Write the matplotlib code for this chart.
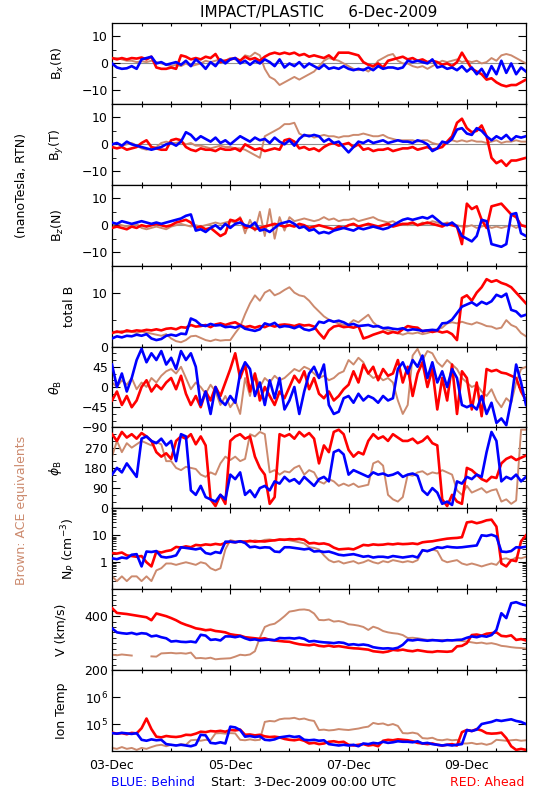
import numpy as np
import matplotlib
matplotlib.use('Agg')
import matplotlib.pyplot as plt
import matplotlib.dates as mdates
from matplotlib.ticker import MultipleLocator, FixedLocator, LogLocator, NullFormatter

#%% data, 2-hourly readings from 3-Dec-2009 00:00 UT
HOURS = np.arange(0, 169, 2)
t = np.datetime64('2009-12-03T00:00') + HOURS.astype('timedelta64[h]')

BX_RED = [2, 1.5, 2, 1.5, 2, 1.8, 2.2, 1.5, 2.5, -1.5, -2, -2,
          -1.5, -2, 3, 2.5, 1.5, 2, 1.5, 2.5, 2, 3.5, 0.5, 1,
          1.5, 2, 1, 2.5, 1.5, 2, 1, 2.5, 3.5, 4, 3.5, 4,
          3.5, 4, 3, 3.5, 2.5, 3, 2.5, 2, 3, 1.5, 4, 4,
          4, 3.5, 3, 0.5, -0.5, -1, 0, -1.5, 1, 1.5, 2, 2.5,
          1.5, 2, 1, 1.5, 0.5, 1, 0.5, -0.5, 0, -1, 0.5, 4,
          1, -2, -3, -4, -6, -5.5, -7, -8, -8.5, -8, -8, -7, -6]
BX_BLUE = [0, -1.5, -2, -1.8, -1, -2, 1.5, 2, 2.5, 0, 0.5, -0.5,
           0, 0.5, -0.5, 1, -1, 1.5, 0, -2, 0.5, -1, 1.5, 0,
           1.5, 2, 0, 1, -0.5, 1, 0, 1.5, 0.5, -1, 1.5, -1.5,
           0, -1, 0.5, -1.5, 0, -1, -2, -0.5, -2, -1.5, -2, -1,
           -2, -2.5, -2, -2.5, -1.5, -2.5, -1, -2, -1.5, -1.5, -2, -1.5,
           1, 0.5, 1, 0.5, 0, 1.5, -1.5, -1, -2, -1.5, -2.5, -1,
           -3, -1.5, -4, -2, -5, -1, -4, 1, -3.5, 0, -4, -1.5, -3]
BX_ACE = [2, 2, 1.5, 1, 1, 0.5, 0.8, 0.5, 1, 0.5, 0, -0.5,
          -1, -0.5, -1, 0, -1, -0.5, 0, 1, 0.5, 1, 1.5, 1,
          2, 1.5, 1, 3, 2.5, 4, 3, -2, -5, -6, -8, -7,
          -6, -5, -6, -5, -4, -3, -1, 1, 2, 1.5, 1, 0,
          -1, -2, -2.5, -2, -3, -1.5, 1, 2, 3, 3.5, 1, 0,
          0, -1, -1.5, -1, -2, -1, 0, 1, 0.5, 1, 1.5, 0.5,
          1, 0.5, 1, 0, 0.5, 2, 1, 3, 3.5, 3, 2, 1, 0]

BY_RED = [-1, -1.5, -1, -2, -1.5, -1, 0.5, 1.5, -1, -1.5, -2, -2,
          1.5, 2, 1.5, -1, -2, -2.5, -1.5, -2, -2, -2.5, -1.5, -2,
          -2, -1.5, -2.5, 0, -1, -2, -1.5, -2.5, -2, -1.5, -2, 1.5,
          2, 1, -1.5, -1, -2, -1.5, -2.5, -1, 0, 0.5, -0.5, 0,
          0.5, -1, 0, -2, -1.5, -2.5, -2, -2, -1.5, -2.5, -2, -1.5,
          -1.5, -1, -2, -1.5, -1, -2, -1.5, -1, 1, 3, 8, 9.5,
          6, 4.5, 5, 7, 3, -5, -7, -6, -8, -6, -6, -5.5, -5]
BY_BLUE = [0, 0.5, -0.5, 1, 0, -0.5, -1, -1.5, -2, -1.5, -1, 0,
           0.5, -0.5, 1, 4.5, 3.5, 1.5, 3, 2, 1, 2.5, 0.5, 1.5,
           0, 1.5, 3, 2, 1, 2.5, 1.5, 2, 0.5, 2.5, 1, 0,
           1.5, -0.5, 2, 3.5, 3, 3.5, 3, 1, 2, 0.5, 1, -1,
           -3, -1, 1, 0.5, 1.5, 0.5, 1, 1.5, 0.5, 1, 1.5, 1,
           1, 0.5, 1.5, 1, 0, -2.5, -1.5, 1, 0.5, 2, 5.5, 6,
           4, 3.5, 6, 5, 3, 1.5, 3, 2, 3.5, 1.5, 3, 2.5, 3]
BY_ACE = [0, 0.5, -0.5, 0, 0.5, -0.5, -1.5, -2, -1.5, -1, 0.5, 1,
          0.5, 0.5, 1, 0, 0.5, -0.5, -0.5, -1, -1.5, -1, -0.5, -1,
          -1, -1.5, -1.5, -2, -3, -4, -5, 3, 4, 5, 6, 7.5,
          7.5, 8, 4, 3, 3.5, 2.5, 3, 3.5, 3, 3, 2.5, 3,
          3, 3.5, 3.5, 4, 3.5, 3, 3, 3.5, 2.5, 2, 1.5, 1.5,
          1.5, 1.5, 1, 1.5, 1.5, 0.5, 0, 0, 1, 1.5, 1, 1.5,
          1, 1.5, 1, 1, 0.5, 1, 1.5, 0.5, 1, 1, 1.5, 1, 1]

BZ_RED = [-1, -0.5, -1, -1.5, -0.5, -1, 0, -0.5, 0, 0.5, 0, -0.5,
          0, 1, 1.5, 2, 1, -1, -0.5, -1.5, -1, -2.5, -4, -3,
          2, 1.5, 2.5, -1, -0.5, -1.5, -1, -0.5, 0, 0.5, 0, -0.5,
          0, -0.5, 0.5, 0, -1, -0.5, 0, -0.5, -1, -1.5, -0.5, -1,
          0, 0.5, -0.5, 0, 0.5, 0, -0.5, 0, 0.5, -0.5, 0, 0.5,
          0.5, 1, 0, 0.5, 1, 0.5, 0, -0.5, 0.5, 0, -0.5, -7,
          8, 6, 7, 2, -1, 7, 7.5, 8, 6, 4, 3, 0, -0.5]
BZ_BLUE = [1, 0.5, 1.5, 1, 0.5, 1, 1.5, 1, 0.5, 1, 0.5, 1,
           1.5, 2, 2.5, 3.5, 4, -2, -1.5, -2.5, -1, 0, -1.5, 0.5,
           -1, 0.5, 1, 0, -0.5, 1, -2, -1.5, -2.5, -1, 0.5, 1,
           1.5, 0.5, -1, -0.5, -2, -1.5, -3, -2.5, -3, -2, -1.5, -1,
           -1.5, -2, -1, -1.5, -1, -0.5, -1, -1.5, -1, 0, 1, 2,
           2.5, 2, 2.5, 3, 2.5, 3.5, 2, 0.5, 0, 1, -0.5, -4,
           -5, -6, -4, 2, 1.5, -7, -7.5, -8, -7, 4, 4.5, -3, -4]
BZ_ACE = [0, 0.5, 0, -0.5, 0, 0.5, -1, -1.5, -1, -0.5, -1, -1.5,
          -0.5, 0, 0.5, 0, -0.5, 0, -0.5, 0, 0.5, 1, 0.5, 1,
          1.5, 1, 3, -3, 2, -2, 5, -4, 6, -5, 3, -2,
          3, 1.5, 2, 2.5, 2, 1.5, 2, 3, 2, 2.5, 1.5, 2,
          2, 2.5, 1.5, 2, 2.5, 3, 2, 1.5, 1, 1.5, 0.5, 0.5,
          0, 0.5, 0, 1, 0.5, 1.5, 1, 0.5, 1, 0.5, 0, -0.5,
          -0.5, 0, -1, -0.5, 0, -1, -0.5, -1, -0.5, 0, -1, 0, -0.5]

BT_RED = [2.5, 2.8, 2.6, 3, 2.8, 3, 2.9, 3.1, 3, 3.2, 3, 3.3,
          3.4, 3.2, 3.6, 3.5, 4, 3.7, 3.8, 4, 3.6, 4.1, 4.3, 4,
          4.3, 4.5, 4, 3.6, 3.8, 3.5, 3.8, 3.6, 4, 3.7, 4, 4.1,
          4, 3.8, 4.1, 3.9, 4, 3.7, 2.5, 1.5, 3, 3.7, 3.9, 3.6,
          3.7, 3.5, 3.8, 1.5, 1.8, 2.2, 2.5, 2.8, 2.4, 2.7, 2.5, 3.2,
          3.8, 3.6, 3.5, 2.8, 3, 2.7, 2.9, 2.6, 2.8, 2.3, 1.2, 9,
          9.5, 8.5, 10, 11, 12.5, 12, 12.3, 11.8, 11.5, 11, 10, 9, 8]
BT_BLUE = [1.5, 1.9, 1.7, 2, 1.9, 2.2, 2, 2.3, 1.5, 1.2, 1.4, 2,
           2.2, 2, 2.4, 2.3, 5.2, 4.8, 4, 3.8, 4.2, 3.9, 4, 3.6,
           3.7, 3.5, 3.9, 3.3, 3.1, 2.9, 3.2, 4.3, 4, 4.4, 3.6, 3.8,
           3.7, 3.4, 3.8, 3.2, 3, 3.3, 4.6, 4.4, 4.9, 4.6, 4.8, 4.5,
           4, 4.2, 3.8, 3.9, 4, 3.7, 3.8, 3.4, 3.5, 3.3, 3.2, 3.4,
           3, 3.2, 3.1, 2.9, 3, 3.1, 3, 4.3, 4.4, 5, 6.2, 7.4,
           7.8, 8.2, 7.6, 8.3, 7.9, 8.4, 9.6, 9.2, 9.8, 6.8, 6.5, 5.6, 5.9]
BT_ACE = [2.8, 2.6, 2.9, 2.7, 2.8, 2.5, 2.8, 2.6, 2.4, 2.2, 2, 2.3,
          1.5, 1, 0.8, 1.2, 1.9, 2, 1.6, 1.2, 1, 1.3, 1.1, 1.2,
          1.2, 2.5, 3.7, 6, 8, 9.5, 8.5, 10, 10.5, 9.5, 9.9, 10.5,
          11, 10, 9.5, 9.3, 8.5, 7.4, 6.5, 5.6, 5, 4.6, 4.3, 4,
          4.1, 4.9, 4.5, 5.2, 5.9, 4.5, 3.7, 3.4, 3, 2.8, 2.5, 2.2,
          2.5, 2.4, 2.6, 2.3, 2.5, 2.8, 3.2, 3.5, 4.3, 4.5, 4.3, 4.6,
          4.3, 4.1, 4.5, 4.2, 3.8, 3.7, 3.3, 3.5, 4.9, 4, 3.6, 2.5, 1.9]

TH_RED = [-30, -10, -40, -20, -45, -30, 0, 15, -10, 5, -5, 10,
          20, -5, 25, -15, -40, -20, -45, -10, -30, 0, -20, 10,
          40, 75, 20, 50, -10, 30, -30, 0, -20, -40, -10, -25,
          0, 25, 10, 35, -5, 20, -15, -25, -10, -30, -20, -5,
          5, 35, 10, 50, 30, 45, 15, 40, 25, 30, 60, 10,
          45, -20, 30, 55, 0, 40, -50, 20, -30, 50, -60, 35,
          20, -50, 10, -65, 40, 35, 38, 32, 30, 25, 20, -10, -30]
TH_BLUE = [50, 0, 30, -10, 20, 60, 85, 55, 75, 60, 80, 50,
           65, 40, 80, 60, 75, 45, -40, -10, -60, 0, -30, -40,
           -20, -35, 30, 55, 40, -20, 10, -40, 15, -25, 20, -50,
           -30, 0, -60, -10, 30, 45, 20, 50, -40, -60, -55, -25,
           -20, -35, -15, -30, -20, -25, -35, -20, -30, -25, 40, 55,
           30, 60, 45, 70, 20, 55, 10, 35, 0, 40, 20, -40,
           -45, -40, -50, -20, -60, -35, -80, -70, -85, -30, 50, 10, -40]
TH_ACE = [10, 0, 15, 5, 20, -5, 10, 0, 20, 10, 25, 35,
          40, 30, 45, 20, -5, 10, 0, -15, 5, -10, -40, -20,
          -45, -30, -60, 20, -20, 30, 0, 20, 10, 25, 15, 20,
          30, 40, 35, 45, 40, 30, 20, 25, 15, 20, 30, 35,
          60, 50, 65, 55, 30, 20, 25, 15, 20, 10, -30, -60,
          -40, 70, 85, 60, 80, 75, 55, 45, 60, 50, 40, 20,
          10, 0, 5, -10, -20, -5, -30, -45, -25, -35, 10, 40, 45]

PH_RED = [330, 300, 340, 315, 330, 310, 335, 320, 300, 250, 230, 245,
          220, 300, 320, 310, 330, 285, 320, 280, 40, 10, 60, 20,
          300, 320, 330, 310, 320, 230, 180, 150, 20, 50, 330, 320,
          330, 310, 340, 320, 335, 310, 200, 280, 250, 340, 350, 330,
          260, 230, 250, 240, 300, 330, 310, 320, 300, 330, 315, 300,
          300, 310, 290, 300, 320, 290, 280, 40, 10, 60, 30, 20,
          180, 170, 150, 130, 120, 140, 135, 200, 220, 230, 215, 225, 235]
PH_BLUE = [150, 180, 160, 200, 170, 140, 310, 320, 300, 290, 310, 280,
           300, 210, 330, 320, 80, 60, 100, 50, 40, 30, 60, 40,
           150, 130, 160, 60, 80, 50, 90, 100, 80, 120, 110, 140,
           120, 130, 110, 140, 120, 100, 130, 140, 120, 250, 260, 240,
           150, 170, 160, 150, 140, 160, 150, 155, 145, 150, 160, 140,
           150, 155, 145, 80, 60, 90, 70, 20, 30, 15, 120, 110,
           140, 130, 150, 140, 250, 340, 300, 120, 140, 130, 150, 120, 140]
PH_ACE = [230, 300, 250, 290, 270, 285, 300, 290, 280, 295, 285, 210,
          210, 180, 170, 185, 180, 175, 150, 140, 160, 150, 200, 230,
          215, 230, 210, 220, 330, 320, 340, 330, 160, 170, 150, 165,
          160, 180, 190, 150, 170, 160, 120, 110, 130, 120, 100, 110,
          100, 110, 95, 100, 105, 200, 210, 190, 60, 40, 30, 50,
          150, 145, 160, 165, 150, 160, 155, 170, 160, 150, 80, 60,
          100, 70, 80, 90, 70, 80, 85, 30, 40, 20, 35, 350, 350]

NP_RED = [2.2, 2.1, 2.3, 1.8, 1.7, 1.6, 1.7, 1.0, 0.7, 2.5, 2.3, 2.6,
          2.8, 3.7, 3.5, 3.9, 3.6, 4.4, 4.2, 4.6, 4.4, 4.8, 4.5, 5.2,
          5.8, 5.5, 6.0, 5.7, 6.2, 5.8, 6.0, 5.9, 6.3, 6.5, 7.0, 6.8,
          7.2, 7.0, 7.3, 6.8, 5.0, 5.2, 4.8, 5.0, 4.5, 3.5, 3.0, 3.1,
          3.2, 3.0, 3.6, 4.4, 4.2, 4.6, 4.4, 4.5, 4.8, 4.6, 4.9, 4.7,
          4.8, 5.0, 4.7, 5.5, 5.8, 6.0, 6.5, 7.0, 7.5, 7.8, 8.0, 8.5,
          30, 32, 28, 31, 36, 38, 21, 0.9, 0.7, 1.2, 1.1, 6, 10]
NP_BLUE = [1.4, 1.3, 1.5, 1.4, 1.9, 2.0, 0.7, 2.5, 2.4, 2.6, 1.6, 1.5,
           1.6, 1.8, 3.6, 3.4, 3.2, 3.0, 3.3, 2.2, 2.0, 2.4, 2.2, 5.8,
           5.8, 5.5, 6.0, 5.2, 3.6, 3.8, 3.4, 3.6, 3.5, 2.5, 2.4, 3.6,
           3.6, 3.4, 3.2, 3.0, 3.2, 2.5, 2.6, 2.4, 2.5, 2.2, 1.9, 1.8,
           1.9, 2.0, 1.8, 1.6, 1.7, 1.5, 1.6, 1.6, 1.5, 1.7, 1.6, 1.5,
           1.6, 1.7, 1.5, 2.8, 2.6, 3.0, 3.6, 3.4, 3.8, 3.6, 3.5, 3.6,
           3.8, 4.0, 4.2, 10, 9.5, 10.5, 9, 2.5, 2.4, 2.6, 3.6, 3.5, 3.8]
NP_ACE = [0.3, 0.2, 0.3, 0.2, 0.3, 0.3, 0.2, 0.3, 0.2, 0.5, 0.6, 0.9,
          0.9, 0.8, 0.9, 1.0, 0.9, 0.8, 1.0, 0.9, 0.6, 0.5, 0.6, 3.0,
          6.6, 6.0, 5.5, 6.2, 5.8, 6.5, 6.0, 6.8, 7.0, 6.5, 6.8, 7.0,
          6.5, 6.0, 5.5, 5.0, 3.6, 3.4, 3.0, 1.8, 1.2, 1.0, 1.1, 0.9,
          1.0, 1.1, 0.9, 1.0, 1.2, 1.0, 0.9, 1.1, 1.0, 1.2, 1.1, 1.0,
          1.1, 1.0, 1.2, 2.8, 2.5, 3.0, 2.6, 1.2, 1.0, 1.1, 1.2, 0.9,
          0.8, 0.9, 0.8, 0.7, 0.8, 0.9, 0.8, 1.3, 1.4, 1.2, 1.5, 1.4, 1.6]

V_RED = [430, 412, 410, 408, 405, 402, 399, 396, 385, 410, 405, 400,
         393, 385, 375, 368, 362, 355, 352, 348, 350, 345, 343, 340,
         333, 330, 328, 322, 320, 318, 316, 318, 312, 310, 308, 306,
         305, 300, 296, 294, 292, 295, 290, 288, 291, 287, 289, 286,
         283, 281, 280, 278, 276, 270, 268, 266, 269, 275, 273, 276,
         272, 270, 274, 271, 268, 267, 270, 269, 268, 270, 288, 290,
         300, 330, 332, 328, 335, 337, 340, 327, 325, 329, 312, 315, 310]
V_BLUE = [355, 340, 337, 335, 338, 333, 337, 335, 325, 328, 322, 318,
          306, 308, 305, 304, 306, 303, 331, 328, 312, 314, 310, 325,
          325, 322, 326, 318, 312, 314, 310, 312, 313, 311, 319, 318,
          319, 317, 320, 316, 306, 308, 305, 303, 302, 300, 303, 301,
          294, 296, 293, 295, 292, 285, 282, 280, 281, 279, 283, 294,
          312, 310, 313, 311, 309, 311, 310, 308, 311, 310, 312, 313,
          320, 325, 322, 327, 324, 330, 349, 411, 393, 448, 452, 445, 440]
V_ACE = [257, 255, 258, 256, 254, np.nan, np.nan, np.nan, 251, 250, 262, 263,
         264, 262, 263, 261, 265, 244, 245, 243, 246, 240, 242, 243,
         244, 250, 257, 255, 258, 270, 320, 360, 368, 372, 385, 400,
         417, 420, 424, 425, 422, 410, 386, 385, 388, 380, 382, 378,
         370, 368, 365, 360, 349, 361, 355, 345, 340, 337, 335, 330,
         319, 320, 318, 315, 312, 313, 311, 312, 310, 312, 310, 308,
         306, 303, 300, 302, 298, 300, 296, 290, 288, 285, 283, 282, 280]

T_RED = [4.8e4, 4.4e4, 4.6e4, 4.2e4, 4.7e4, 4.5e4, 7e4, 1.6e5, 6.5e4, 3.4e4, 3.2e4, 3.6e4,
         3.4e4, 3.3e4, 3.5e4, 4e4, 3.9e4, 4.4e4, 5.2e4, 5e4, 5.5e4, 5.3e4, 5.6e4, 5.2e4,
         6e4, 5.8e4, 6.2e4, 4e4, 4.1e4, 3.8e4, 4e4, 3.5e4, 3.3e4, 3.4e4, 3.2e4, 2.8e4,
         2.6e4, 2.5e4, 2.7e4, 2.4e4, 1.9e4, 2e4, 1.8e4, 1.9e4, 2.2e4, 2.3e4, 2.1e4, 2.2e4,
         1.7e4, 1.6e4, 1.7e4, 1.8e4, 1.6e4, 1.7e4, 1.5e4, 2.4e4, 2.6e4, 2.5e4, 2.7e4, 2.6e4,
         2.5e4, 2.3e4, 2e4, 1.9e4, 1.8e4, 1.9e4, 1.7e4, 1.6e4, 1.7e4, 1.8e4, 1.6e4, 5e4,
         6e4, 5.5e4, 6.5e4, 5.8e4, 4.6e4, 4.4e4, 4.5e4, 4.8e4, 3e4, 1.5e4, 1.1e4, 1.2e4, 1.1e4]
T_BLUE = [4.6e4, 4.4e4, 4.7e4, 4.5e4, 4.3e4, 4.6e4, 2.6e4, 2.4e4, 2.7e4, 2.5e4, 2.6e4, 1.8e4,
          1.7e4, 1.6e4, 1.7e4, 1.6e4, 1.5e4, 1.7e4, 4e4, 3.8e4, 2e4, 1.9e4, 2.1e4, 1.9e4,
          8e4, 7.5e4, 6e4, 3.4e4, 3.6e4, 3.3e4, 3.5e4, 2.6e4, 2.5e4, 2.7e4, 3.2e4, 3.4e4,
          3.6e4, 3.3e4, 3.5e4, 2.6e4, 2.5e4, 2.6e4, 2.4e4, 2.5e4, 1.8e4, 1.7e4, 1.6e4, 1.7e4,
          1.6e4, 1.7e4, 1.5e4, 1.9e4, 1.8e4, 2e4, 1.9e4, 2.2e4, 2e4, 2.1e4, 2.3e4, 2.2e4,
          2.2e4, 2.1e4, 2.3e4, 1.9e4, 2e4, 1.8e4, 1.7e4, 1.6e4, 1.7e4, 1.6e4, 1.7e4, 1.8e4,
          6e4, 5.5e4, 6.2e4, 1e5, 1.1e5, 1.2e5, 1.4e5, 1.3e5, 1.4e5, 1.5e5, 1.3e5, 1.2e5, 1.0e5]
T_ACE = [1.3e4, 1.2e4, 1.4e4, 1.2e4, 1.3e4, 1.1e4, 1.3e4, 1.2e4, 1.4e4, 1.6e4, 1.7e4, 1.5e4,
         1.7e4, 1.6e4, 1.8e4, 1.7e4, 2.5e4, 2.6e4, 2.4e4, 2.6e4, 2.5e4, 4.5e4, 4.6e4, 4.4e4,
         4.6e4, 4.5e4, 2.6e4, 2.5e4, 2.7e4, 2.5e4, 2.6e4, 1.2e5, 1.3e5, 1.25e5, 1.5e5, 1.6e5,
         1.6e5, 1.7e5, 1.5e5, 1.6e5, 1.4e5, 1.3e5, 6e4, 6.2e4, 5.8e4, 6e4, 6.5e4, 6.2e4,
         6e4, 6.4e4, 6.8e4, 7.5e4, 8e4, 1.1e5, 1.0e5, 1.05e5, 9e4, 1.0e5, 8.5e4, 4.6e4,
         4.5e4, 4.8e4, 4.4e4, 3e4, 2.9e4, 3.1e4, 2.6e4, 2.5e4, 2.7e4, 2.5e4, 2.6e4, 1.9e4,
         1.9e4, 2e4, 1.8e4, 1.9e4, 1.7e4, 1.9e4, 2.6e4, 2.5e4, 2.4e4, 2.5e4, 2.6e4, 2.4e4, 2.5e4]

DATE_START = np.datetime64('2009-12-03T00:00')
DATE_END = np.datetime64('2009-12-10T00:00')
LABEL_DAYS = [3, 5, 7, 9]

RED = '#ff0000'
BLUE = '#0000ff'
BROWN = '#cc8a6e'

# (ylabel, ace, red, blue, ylim, yticks, ticklabels, minor step, log, label x px)
panels = [
    (r'B$_x$(R)', BX_ACE, BX_RED, BX_BLUE, (-15, 15), [-10, 0, 10], None, 5, False, 66),
    (r'B$_y$(T)', BY_ACE, BY_RED, BY_BLUE, (-15, 15), [-10, 0, 10], None, 5, False, 66),
    (r'B$_z$(N)', BZ_ACE, BZ_RED, BZ_BLUE, (-15, 15), [-10, 0, 10], None, 5, False, 66),
    ('total B', BT_ACE, BT_RED, BT_BLUE, (0, 15), [0, 10], None, 5, False, 76),
    (r'$\theta_{\rm B}$', TH_ACE, TH_RED, TH_BLUE, (-90, 90), [-90, -45, 0, 45], None, 15, False, 64),
    (r'$\phi_{\rm B}$', PH_ACE, PH_RED, PH_BLUE, (0, 360), [0, 90, 180, 270], None, 30, False, 64),
    (r'N$_P$ (cm$^{-3}$)', NP_ACE, NP_RED, NP_BLUE, (0.1, 100), [1, 10], ['1', '10'], None, True, 78),
    ('V (km/s)', V_ACE, V_RED, V_BLUE, (200, 500), [200, 400], None, 20, False, 68),
    ('Ion Temp', T_ACE, T_RED, T_BLUE, (1e4, 1e7), [1e5, 1e6], [r'10$^5$', r'10$^6$'], None, True, 68),
]

#%%
W, H = 550, 800
plt.rcParams['font.family'] = 'DejaVu Sans'
fig = plt.figure(figsize=(W / 100, H / 100), dpi=100)

left, right, top, bottom = 112, 526, 23, 751
ph = (bottom - top) / len(panels)

for k, (lab, ace, red, blue, ylim, yt, ytl, mstep, islog, labx) in enumerate(panels):
    ax = fig.add_axes([left / W, 1 - (top + (k + 1) * ph) / H, (right - left) / W, ph / H])
    if islog:
        ax.set_yscale('log')
    if k < 3:
        ax.axhline(0, color='#909090', lw=0.8, zorder=1)
    ax.plot(t, ace, color=BROWN, lw=1.4, zorder=2)
    ax.plot(t, red, color=RED, lw=1.9, zorder=3)
    ax.plot(t, blue, color=BLUE, lw=1.9, zorder=4)
    ax.set_xlim(DATE_START, DATE_END)
    ax.set_ylim(*ylim)
    ax.yaxis.set_major_locator(FixedLocator(yt))
    if ytl is not None:
        ax.set_yticklabels(ytl)
    if islog:
        ax.yaxis.set_minor_locator(LogLocator(base=10, subs=np.arange(2, 10)))
        ax.yaxis.set_minor_formatter(NullFormatter())
    else:
        ax.yaxis.set_minor_locator(MultipleLocator(mstep))
    ax.set_ylabel(lab, fontsize=9, labelpad=0)
    ax.yaxis.set_label_coords((labx - left) / (right - left), 0.5)
    ax.xaxis.set_major_locator(mdates.DayLocator(bymonthday=LABEL_DAYS))
    ax.xaxis.set_minor_locator(mdates.HourLocator(byhour=[0, 12]))
    ax.xaxis.set_major_formatter(mdates.DateFormatter('%d-%b'))
    ax.tick_params(axis='y', which='major', direction='in', length=6, width=0.8,
                   left=True, right=True, labelsize=9, pad=3)
    ax.tick_params(axis='y', which='minor', direction='in', length=3, width=0.6,
                   left=True, right=True)
    ax.tick_params(axis='x', which='major', direction='in', length=3.5, width=0.8,
                   top=True, bottom=True, labelsize=9, pad=6)
    ax.tick_params(axis='x', which='minor', direction='in', length=2, width=0.8,
                   top=True, bottom=True)
    ax.tick_params(axis='x', labelbottom=(k == len(panels) - 1))
    for s in ax.spines.values():
        s.set_linewidth(0.9)

fig.text(319 / W, 1 - 12 / H, 'IMPACT/PLASTIC     6-Dec-2009', ha='center', va='center', fontsize=11)
fig.text(22 / W, 1 - 186 / H, '(nanoTesla, RTN)', rotation=90, ha='center', va='center', fontsize=9)
fig.text(22 / W, 1 - 510 / H, 'Brown: ACE equivalents', rotation=90, ha='center', va='center',
         fontsize=9, color=BROWN)
fig.text(111 / W, 1 - 782 / H, 'BLUE: Behind', ha='left', va='center', fontsize=9, color=BLUE)
fig.text(211 / W, 1 - 782 / H, 'Start:  3-Dec-2009 00:00 UTC', ha='left', va='center', fontsize=9)
fig.text(524 / W, 1 - 782 / H, 'RED: Ahead', ha='right', va='center', fontsize=9, color=RED)

plt.savefig('out.png', dpi=100)
